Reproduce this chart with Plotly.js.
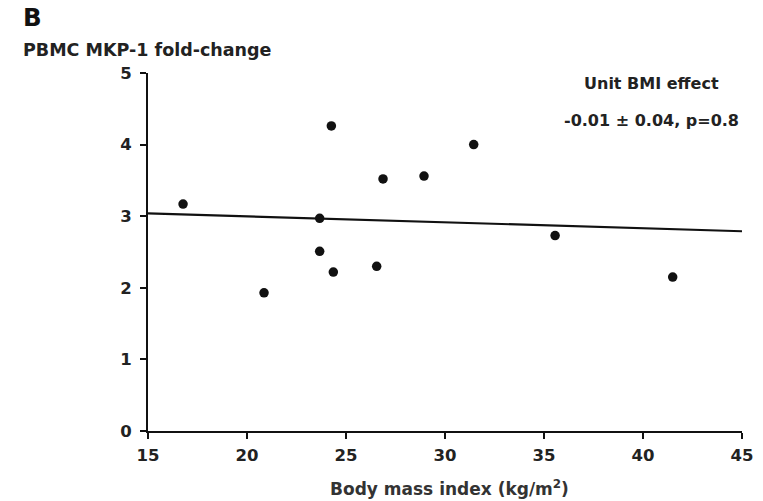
<!DOCTYPE html>
<html>
<head>
<meta charset="utf-8">
<script src="https://cdn.plot.ly/plotly-3.0.1.min.js"></script>
<style>
  html, body { margin: 0; padding: 0; background: #fff; }
  #chart { width: 763px; height: 501px; }
</style>
</head>
<body>
<div id="chart"></div>
<script>
// Body mass index (kg/m²) of each subject
const bmi = [16.77, 20.86, 23.67, 23.67, 24.26, 24.36, 26.55, 26.87, 28.94, 31.45, 35.56, 41.5];
// PBMC MKP-1 fold-change of each subject
const foldChange = [3.17, 1.93, 2.97, 2.51, 4.26, 2.22, 2.30, 3.52, 3.56, 4.00, 2.73, 2.15];
// Fitted regression line end points
const fitX = [15, 45];
const fitY = [3.04, 2.79];
// Axis ticks
const xTicks = [15, 20, 25, 30, 35, 40, 45];
const yTicks = [0, 1, 2, 3, 4, 5];

const ink = '#111';
const textInk = '#222';
const font = 'DejaVu Sans, Liberation Sans, Arial, sans-serif';

const traces = [
  {
    x: fitX, y: fitY, type: 'scatter', mode: 'lines',
    line: { color: ink, width: 2.2 }, hoverinfo: 'skip'
  },
  {
    x: bmi, y: foldChange, type: 'scatter', mode: 'markers',
    marker: { color: ink, size: 9.5 }
  }
];

const axisCommon = {
  showgrid: false, zeroline: false,
  showline: true, linecolor: ink, linewidth: 2,
  ticks: 'outside', ticklen: 6, tickwidth: 2, tickcolor: ink,
  tickfont: { family: font, size: 16.5, color: textInk, weight: 'bold' }
};

const layout = {
  width: 763, height: 501,
  margin: { l: 148, r: 21, t: 73, b: 70 },
  paper_bgcolor: '#fff', plot_bgcolor: '#fff',
  showlegend: false,
  font: { family: font, color: textInk },
  xaxis: Object.assign({}, axisCommon, {
    range: [15, 45], tickvals: xTicks, ticktext: xTicks.map(String),
    ticklabelstandoff: 2
  }),
  yaxis: Object.assign({}, axisCommon, {
    range: [0, 5], tickvals: yTicks, ticktext: yTicks.map(String),
    ticklabelstandoff: 5
  }),
  annotations: [
    { text: '<b>B</b>', xref: 'paper', yref: 'paper', x: -0.213, y: 1.154, xanchor: 'left', yanchor: 'middle',
      showarrow: false, font: { family: font, size: 24.5, color: ink } },
    { text: '<b>PBMC MKP-1 fold-change</b>', xref: 'paper', yref: 'paper', x: -0.213, y: 1.064, xanchor: 'left', yanchor: 'middle',
      showarrow: false, font: { family: font, size: 17.5, color: textInk } },
    { text: '<b>Unit BMI effect</b>', xref: 'paper', yref: 'paper', x: 0.847, y: 0.971, xanchor: 'center', yanchor: 'middle',
      showarrow: false, font: { family: font, size: 16, color: textInk } },
    { text: '<b>-0.01 ± 0.04, p=0.8</b>', xref: 'paper', yref: 'paper', x: 0.847, y: 0.867, xanchor: 'center', yanchor: 'middle',
      showarrow: false, font: { family: font, size: 16, color: textInk } },
    { text: '<b>Body mass index (kg/m<sup>2</sup>)</b>', xref: 'paper', yref: 'paper', x: 0.508, y: -0.158, xanchor: 'center', yanchor: 'middle',
      showarrow: false, font: { family: font, size: 17, color: '#333' } }
  ]
};

Plotly.newPlot('chart', traces, layout, { displayModeBar: false, staticPlot: true });
</script>
</body>
</html>
